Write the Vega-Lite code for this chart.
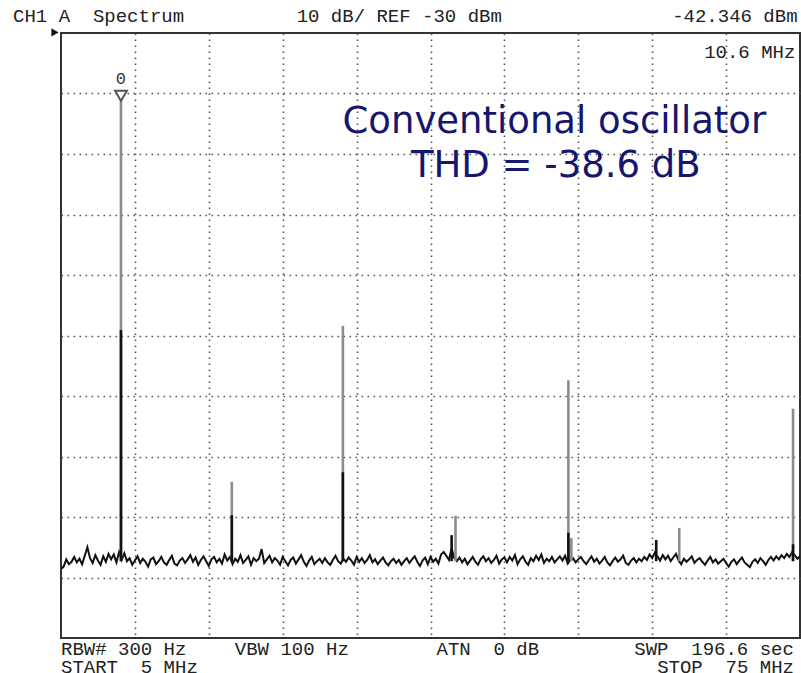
{
  "$schema": "https://vega.github.io/schema/vega-lite/v6.json",
  "width": 739,
  "height": 605,
  "autosize": {"type": "none"},
  "padding": {"left": 61, "top": 33, "right": 1, "bottom": 35},
  "background": "white",
  "config": {
    "view": {"stroke": "#333333", "strokeWidth": 2},
    "axis": {"labels": false, "ticks": false, "domain": false, "title": null, "grid": true, "gridColor": "#555555", "gridDash": [1.6, 4.4], "gridWidth": 1.6, "gridOpacity": 1}
  },
  "datasets": {
    "noise": [
      {"f":5,"dB":-118.6},{"f":5.25,"dB":-118.2},{"f":5.5,"dB":-117.0},{"f":5.75,"dB":-117.8},{"f":6,"dB":-117.4},{"f":6.25,"dB":-116.6},{"f":6.5,"dB":-117.5},{"f":6.75,"dB":-116.9},{"f":7,"dB":-117.8},{"f":7.25,"dB":-116.4},
      {"f":7.5,"dB":-115.0},{"f":7.75,"dB":-116.8},{"f":8,"dB":-117.6},{"f":8.25,"dB":-116.3},{"f":8.5,"dB":-117.2},{"f":8.75,"dB":-117.9},{"f":9,"dB":-116.5},{"f":9.25,"dB":-117.4},{"f":9.5,"dB":-116.1},{"f":9.75,"dB":-117.0},
      {"f":10,"dB":-116.2},{"f":10.25,"dB":-117.5},{"f":10.5,"dB":-115.8},{"f":10.75,"dB":-117.1},{"f":11,"dB":-116.0},{"f":11.25,"dB":-117.3},{"f":11.5,"dB":-116.8},{"f":11.75,"dB":-117.9},{"f":12,"dB":-117.2},{"f":12.25,"dB":-116.5},
      {"f":12.5,"dB":-117.6},{"f":12.75,"dB":-116.9},{"f":13,"dB":-117.4},{"f":13.25,"dB":-118.2},{"f":13.5,"dB":-117.0},{"f":13.75,"dB":-116.7},{"f":14,"dB":-117.8},{"f":14.25,"dB":-117.3},{"f":14.5,"dB":-116.6},{"f":14.75,"dB":-117.5},
      {"f":15,"dB":-117.9},{"f":15.25,"dB":-117.1},{"f":15.5,"dB":-116.4},{"f":15.75,"dB":-117.7},{"f":16,"dB":-118.0},{"f":16.25,"dB":-117.2},{"f":16.5,"dB":-116.8},{"f":16.75,"dB":-117.6},{"f":17,"dB":-117.0},{"f":17.25,"dB":-116.3},
      {"f":17.5,"dB":-117.4},{"f":17.75,"dB":-116.7},{"f":18,"dB":-117.9},{"f":18.25,"dB":-117.1},{"f":18.5,"dB":-116.5},{"f":18.75,"dB":-117.3},{"f":19,"dB":-118.1},{"f":19.25,"dB":-117.0},{"f":19.5,"dB":-116.6},{"f":19.75,"dB":-117.5},
      {"f":20,"dB":-116.9},{"f":20.25,"dB":-117.7},{"f":20.5,"dB":-116.2},{"f":20.75,"dB":-117.2},{"f":21,"dB":-116.6},{"f":21.25,"dB":-117.8},{"f":21.5,"dB":-116.9},{"f":21.75,"dB":-117.4},{"f":22,"dB":-116.3},{"f":22.25,"dB":-117.6},
      {"f":22.5,"dB":-117.1},{"f":22.75,"dB":-116.5},{"f":23,"dB":-117.9},{"f":23.25,"dB":-116.8},{"f":23.5,"dB":-117.3},{"f":23.75,"dB":-116.9},{"f":24,"dB":-115.3},{"f":24.25,"dB":-117.6},{"f":24.5,"dB":-117.0},{"f":24.75,"dB":-116.4},
      {"f":25,"dB":-117.5},{"f":25.25,"dB":-116.8},{"f":25.5,"dB":-117.2},{"f":25.75,"dB":-117.9},{"f":26,"dB":-116.6},{"f":26.25,"dB":-117.3},{"f":26.5,"dB":-118.0},{"f":26.75,"dB":-117.1},{"f":27,"dB":-116.7},{"f":27.25,"dB":-117.7},
      {"f":27.5,"dB":-117.0},{"f":27.75,"dB":-116.3},{"f":28,"dB":-117.4},{"f":28.25,"dB":-118.1},{"f":28.5,"dB":-117.2},{"f":28.75,"dB":-116.6},{"f":29,"dB":-117.8},{"f":29.25,"dB":-117.3},{"f":29.5,"dB":-116.9},{"f":29.75,"dB":-117.6},
      {"f":30,"dB":-116.8},{"f":30.25,"dB":-117.5},{"f":30.5,"dB":-117.9},{"f":30.75,"dB":-117.1},{"f":31,"dB":-116.4},{"f":31.25,"dB":-117.3},{"f":31.5,"dB":-117.7},{"f":31.75,"dB":-116.9},{"f":32,"dB":-117.4},{"f":32.25,"dB":-116.7},
      {"f":32.5,"dB":-117.2},{"f":32.75,"dB":-117.9},{"f":33,"dB":-116.6},{"f":33.25,"dB":-117.4},{"f":33.5,"dB":-116.8},{"f":33.75,"dB":-117.6},{"f":34,"dB":-117.1},{"f":34.25,"dB":-116.3},{"f":34.5,"dB":-117.5},{"f":34.75,"dB":-117.0},
      {"f":35,"dB":-117.8},{"f":35.25,"dB":-117.2},{"f":35.5,"dB":-116.7},{"f":35.75,"dB":-117.5},{"f":36,"dB":-118.0},{"f":36.25,"dB":-117.3},{"f":36.5,"dB":-116.9},{"f":36.75,"dB":-117.6},{"f":37,"dB":-117.1},{"f":37.25,"dB":-117.9},
      {"f":37.5,"dB":-117.3},{"f":37.75,"dB":-116.8},{"f":38,"dB":-117.6},{"f":38.25,"dB":-117.0},{"f":38.5,"dB":-116.5},{"f":38.75,"dB":-117.4},{"f":39,"dB":-118.1},{"f":39.25,"dB":-117.2},{"f":39.5,"dB":-116.7},{"f":39.75,"dB":-117.8},
      {"f":40,"dB":-116.6},{"f":40.25,"dB":-117.4},{"f":40.5,"dB":-116.9},{"f":40.75,"dB":-117.7},{"f":41,"dB":-116.2},{"f":41.25,"dB":-115.8},{"f":41.5,"dB":-116.4},{"f":41.75,"dB":-117.1},{"f":42,"dB":-115.2},{"f":42.25,"dB":-116.8},
      {"f":42.5,"dB":-117.3},{"f":42.75,"dB":-116.7},{"f":43,"dB":-117.5},{"f":43.25,"dB":-116.9},{"f":43.5,"dB":-117.8},{"f":43.75,"dB":-117.2},{"f":44,"dB":-116.6},{"f":44.25,"dB":-117.4},{"f":44.5,"dB":-117.9},{"f":44.75,"dB":-117.0},
      {"f":45,"dB":-116.5},{"f":45.25,"dB":-117.3},{"f":45.5,"dB":-116.8},{"f":45.75,"dB":-117.6},{"f":46,"dB":-117.1},{"f":46.25,"dB":-116.4},{"f":46.5,"dB":-117.7},{"f":46.75,"dB":-117.0},{"f":47,"dB":-116.7},{"f":47.25,"dB":-117.5},
      {"f":47.5,"dB":-116.6},{"f":47.75,"dB":-117.2},{"f":48,"dB":-116.3},{"f":48.25,"dB":-117.8},{"f":48.5,"dB":-117.0},{"f":48.75,"dB":-116.5},{"f":49,"dB":-117.4},{"f":49.25,"dB":-117.9},{"f":49.5,"dB":-116.8},{"f":49.75,"dB":-117.3},
      {"f":50,"dB":-116.4},{"f":50.25,"dB":-117.1},{"f":50.5,"dB":-116.2},{"f":50.75,"dB":-117.6},{"f":51,"dB":-116.9},{"f":51.25,"dB":-117.3},{"f":51.5,"dB":-116.6},{"f":51.75,"dB":-117.5},{"f":52,"dB":-117.0},{"f":52.25,"dB":-116.5},
      {"f":52.5,"dB":-117.2},{"f":52.75,"dB":-116.4},{"f":53,"dB":-117.7},{"f":53.25,"dB":-117.1},{"f":53.5,"dB":-116.8},{"f":53.75,"dB":-117.5},{"f":54,"dB":-117.0},{"f":54.25,"dB":-116.6},{"f":54.5,"dB":-117.3},{"f":54.75,"dB":-117.8},
      {"f":55,"dB":-117.1},{"f":55.25,"dB":-116.5},{"f":55.5,"dB":-117.4},{"f":55.75,"dB":-116.9},{"f":56,"dB":-117.7},{"f":56.25,"dB":-117.2},{"f":56.5,"dB":-116.6},{"f":56.75,"dB":-117.5},{"f":57,"dB":-118.0},{"f":57.25,"dB":-117.3},
      {"f":57.5,"dB":-116.7},{"f":57.75,"dB":-117.4},{"f":58,"dB":-117.0},{"f":58.25,"dB":-116.4},{"f":58.5,"dB":-117.6},{"f":58.75,"dB":-117.9},{"f":59,"dB":-117.2},{"f":59.25,"dB":-116.8},{"f":59.5,"dB":-117.5},{"f":59.75,"dB":-116.9},
      {"f":60,"dB":-117.3},{"f":60.25,"dB":-116.6},{"f":60.5,"dB":-117.1},{"f":60.75,"dB":-116.2},{"f":61,"dB":-116.8},{"f":61.25,"dB":-115.9},{"f":61.5,"dB":-116.5},{"f":61.75,"dB":-117.2},{"f":62,"dB":-116.3},{"f":62.25,"dB":-117.0},
      {"f":62.5,"dB":-116.4},{"f":62.75,"dB":-117.3},{"f":63,"dB":-116.7},{"f":63.25,"dB":-116.1},{"f":63.5,"dB":-117.2},{"f":63.75,"dB":-117.8},{"f":64,"dB":-116.9},{"f":64.25,"dB":-117.4},{"f":64.5,"dB":-117.0},{"f":64.75,"dB":-116.5},
      {"f":65,"dB":-117.6},{"f":65.25,"dB":-117.1},{"f":65.5,"dB":-116.8},{"f":65.75,"dB":-117.4},{"f":66,"dB":-117.9},{"f":66.25,"dB":-117.2},{"f":66.5,"dB":-116.6},{"f":66.75,"dB":-117.5},{"f":67,"dB":-117.0},{"f":67.25,"dB":-117.7},
      {"f":67.5,"dB":-117.3},{"f":67.75,"dB":-116.9},{"f":68,"dB":-117.6},{"f":68.25,"dB":-118.2},{"f":68.5,"dB":-117.4},{"f":68.75,"dB":-117.0},{"f":69,"dB":-117.8},{"f":69.25,"dB":-117.2},{"f":69.5,"dB":-116.7},{"f":69.75,"dB":-117.5},
      {"f":70,"dB":-117.9},{"f":70.25,"dB":-118.3},{"f":70.5,"dB":-117.4},{"f":70.75,"dB":-117.0},{"f":71,"dB":-117.6},{"f":71.25,"dB":-116.8},{"f":71.5,"dB":-117.3},{"f":71.75,"dB":-117.9},{"f":72,"dB":-117.1},{"f":72.25,"dB":-116.6},
      {"f":72.5,"dB":-117.2},{"f":72.75,"dB":-116.5},{"f":73,"dB":-117.0},{"f":73.25,"dB":-116.3},{"f":73.5,"dB":-116.8},{"f":73.75,"dB":-116.1},{"f":74,"dB":-116.6},{"f":74.25,"dB":-115.8},{"f":74.5,"dB":-116.3},{"f":74.75,"dB":-116.9},
      {"f":75,"dB":-116.5}
    ],
    "peaks": [
      {"f":10.68,"top":-41.3,"base":-117.3,"trace":"max hold"},
      {"f":21.18,"top":-104.2,"base":-117.3,"trace":"max hold"},
      {"f":31.7,"top":-78.4,"base":-117.3,"trace":"max hold"},
      {"f":42.37,"top":-109.8,"base":-117.3,"trace":"max hold"},
      {"f":53.06,"top":-87.4,"base":-117.3,"trace":"max hold"},
      {"f":53.34,"top":-113.5,"base":-117.3,"trace":"max hold"},
      {"f":63.56,"top":-111.8,"base":-117.3,"trace":"max hold"},
      {"f":74.34,"top":-92.1,"base":-117.3,"trace":"max hold"},
      {"f":10.68,"top":-79.1,"base":-117.3,"trace":"live"},
      {"f":21.18,"top":-109.7,"base":-117.3,"trace":"live"},
      {"f":31.7,"top":-102.6,"base":-117.3,"trace":"live"},
      {"f":42.0,"top":-113.0,"base":-117.3,"trace":"live"},
      {"f":53.06,"top":-112.6,"base":-117.3,"trace":"live"},
      {"f":61.38,"top":-113.8,"base":-117.3,"trace":"live"},
      {"f":74.34,"top":-114.5,"base":-117.3,"trace":"live"}
    ],
    "marker": [{"f":10.68,"dB":-40.4,"label":"0","labeldB":-38.45}],
    "refarrow": [{"f":4.43,"dB":-29.9}],
    "infotext": [
      {"f":0.46,"dB":-28.2,"text":"CH1\u00a0A\u00a0\u00a0Spectrum"},
      {"f":27.32,"dB":-28.2,"text":"10\u00a0dB/\u00a0REF\u00a0-30\u00a0dBm"},
      {"f":62.89,"dB":-28.2,"text":"-42.346\u00a0dBm"},
      {"f":65.92,"dB":-34.13,"text":"10.6\u00a0MHz"},
      {"f":5.0,"dB":-132.8,"text":"RBW#\u00a0300\u00a0Hz"},
      {"f":21.46,"dB":-132.8,"text":"VBW\u00a0100\u00a0Hz"},
      {"f":40.57,"dB":-132.8,"text":"ATN\u00a0\u00a00\u00a0dB"},
      {"f":59.3,"dB":-132.8,"text":"SWP\u00a0\u00a0196.6\u00a0sec"},
      {"f":5.0,"dB":-135.85,"text":"START\u00a0\u00a05\u00a0MHz"},
      {"f":61.47,"dB":-135.85,"text":"STOP\u00a0\u00a075\u00a0MHz"}
    ],
    "caption": [
      {"f":51.73,"dB":-46.5,"text":"Conventional oscillator"},
      {"f":51.87,"dB":-53.8,"text":"THD = -38.6 dB"}
    ]
  },
  "encoding": {
    "x": {"field": "f", "type": "quantitative", "scale": {"domain": [5, 75], "nice": false, "zero": false}, "axis": {"values": [12, 19, 26, 33, 40, 47, 54, 61, 68]}},
    "y": {"field": "dB", "type": "quantitative", "scale": {"domain": [-130, -30], "nice": false, "zero": false}, "axis": {"values": [-40, -50, -60, -70, -80, -90, -100, -110, -120]}}
  },
  "layer": [
    {
      "data": {"name": "noise"},
      "mark": {"type": "line", "stroke": "#111111", "strokeWidth": 2, "clip": true}
    },
    {
      "data": {"name": "peaks"},
      "mark": {"type": "rule", "strokeWidth": 2.6},
      "encoding": {
        "y": {"field": "top", "type": "quantitative"},
        "y2": {"field": "base"},
        "color": {"field": "trace", "type": "nominal", "scale": {"domain": ["max hold", "live"], "range": ["#8c8c8c", "#111111"]}, "legend": null}
      }
    },
    {
      "data": {"name": "marker"},
      "mark": {"type": "point", "shape": "triangle-down", "size": 140, "filled": true, "fill": "white", "stroke": "#555555", "strokeWidth": 2, "opacity": 1}
    },
    {
      "data": {"name": "marker"},
      "mark": {"type": "text", "font": "Liberation Mono", "fontSize": 17, "color": "#333333", "align": "center", "baseline": "alphabetic"},
      "encoding": {"y": {"field": "labeldB", "type": "quantitative"}, "text": {"field": "label"}}
    },
    {
      "data": {"name": "refarrow"},
      "mark": {"type": "point", "shape": "triangle-right", "size": 70, "filled": true, "color": "#111111", "opacity": 1}
    },
    {
      "data": {"name": "infotext"},
      "mark": {"type": "text", "font": "Liberation Mono", "fontSize": 19, "color": "#222222", "align": "left", "baseline": "alphabetic"},
      "encoding": {"text": {"field": "text"}}
    },
    {
      "data": {"name": "caption"},
      "mark": {"type": "text", "font": "DejaVu Sans", "fontSize": 37, "color": "#16166e", "align": "center", "baseline": "alphabetic"},
      "encoding": {"text": {"field": "text"}}
    }
  ]
}
